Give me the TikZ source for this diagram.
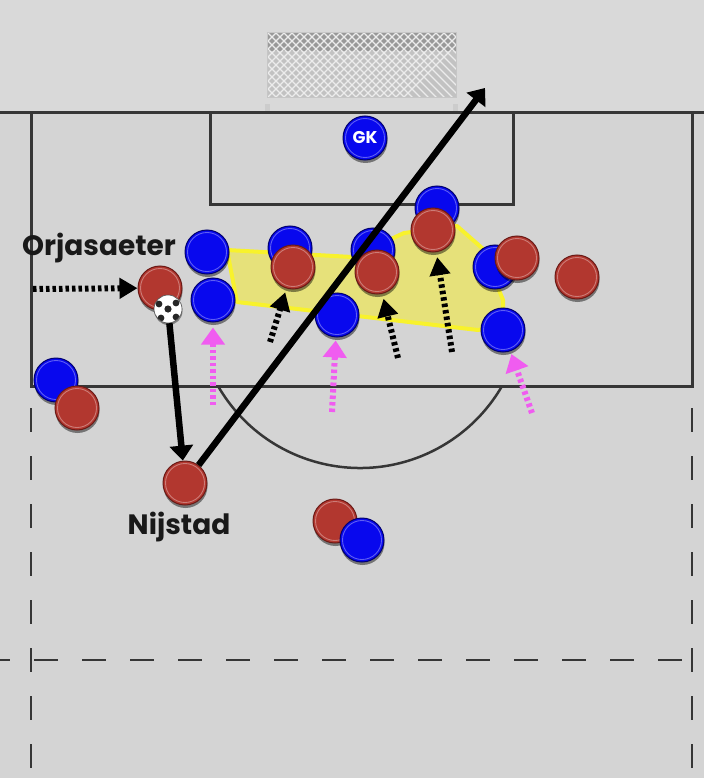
\documentclass[tikz,border=0pt]{standalone}
\usepackage{fontspec}
\setmainfont{Poppins}
\usetikzlibrary{arrows.meta,shadows}
\definecolor{pitchgrey}{HTML}{D4D4D4}
\definecolor{topgrey}{HTML}{D9D9D9}
\definecolor{linegrey}{HTML}{363636}
\definecolor{teamblue}{HTML}{0808EE}
\definecolor{blueedge}{HTML}{00006E}
\definecolor{teamred}{HTML}{B2372F}
\definecolor{rededge}{HTML}{6A1A16}
\definecolor{zonefill}{HTML}{E6E17A}
\definecolor{zoneedge}{HTML}{F8F22C}
\definecolor{runpink}{HTML}{F05CF0}
\definecolor{netgrey}{HTML}{C2C2C2}
\tikzset{
  pitchline/.style={draw=linegrey,line width=3pt},
  player/.style={circle,minimum size=44pt,inner sep=0pt,line width=1pt,
    drop shadow={shadow xshift=0.5pt,shadow yshift=-3pt,opacity=.45,fill=black},
    path picture={\draw[white,opacity=.35,line width=.9pt]
      (path picture bounding box.center) circle[radius=19.5pt];}},
  bluep/.style={player,fill=teamblue,draw=blueedge},
  redp/.style={player,fill=teamred,draw=rededge},
  pass/.style={line width=6.5pt,-{Triangle[length=15pt,width=23pt]}},
  blackrun/.style={line width=6pt,dash pattern=on 3.5pt off 3pt,
    -{Triangle[length=18pt,width=20pt]}},
  pinkrun/.style={draw=runpink,line width=6pt,dash pattern=on 3.5pt off 3pt,
    -{Triangle[length=17pt,width=23pt,fill=runpink]}},
  lbl/.style={font=\bfseries\fontsize{28}{32}\selectfont,text=black!90}
}
\begin{document}
\begin{tikzpicture}[x=1pt,y=-1pt]
  \useasboundingbox[fill=pitchgrey] (0,0) rectangle (704,778);
  \fill[topgrey] (0,0) rectangle (704,113);
  % goal net
  \begin{scope}
    \clip (267,33) rectangle (456,98);
    \fill[netgrey] (267,33) rectangle (456,98);
    \fill[gray!80] (267,33) rectangle (456,51);
    \foreach \k in {180,188,...,470} {
      \draw[white!85!gray,line width=1.3pt] (\k,33) -- ++(65,65);
      \draw[white!85!gray,line width=1.3pt] (\k,33) -- ++(-65,65);
    }
  \end{scope}
  \draw[gray!45,line width=1pt] (267,33) rectangle (456,98);
  \fill[gray!30] (265,98) rectangle (458,104);
  \fill[gray!40] (265,104) rectangle (270,113);
  \fill[gray!40] (453,104) rectangle (458,113);
  % pitch markings
  \draw[pitchline] (0,113) -- (704,113);
  \draw[pitchline] (31,113) rectangle (692,386);
  \draw[pitchline] (210,113) rectangle (513,204);
  \draw[draw=linegrey,line width=2.5pt] (218,386) arc[start angle=150,end angle=30,radius=164];
  \draw[draw=linegrey,line width=2.5pt,dash pattern=on 24pt off 24pt] (31,408) -- (31,778);
  \draw[draw=linegrey,line width=2.5pt,dash pattern=on 24pt off 24pt] (692,408) -- (692,778);
  \draw[draw=linegrey,line width=2.5pt,dash pattern=on 24pt off 24pt] (-14,660) -- (704,660);
  % defensive block
  \fill[zonefill] (227,250) -- (352,257) -- (404,233) -- (457,226) -- (482,248)
    -- (503,300) -- (503,325) -- (478,330) -- (237,302) -- cycle;
  \draw[zoneedge,line width=4pt,line join=round] (227,250) -- (352,257) -- (404,233)
    -- (457,226) -- (482,248) -- (503,300) -- (503,325) -- (478,330) -- (237,302) -- cycle;
  % players
  \node[bluep,text=white,font=\bfseries\fontsize{17}{17}\selectfont] (gk) at (365,138) {GK};
  \node[bluep] (b1) at (207,252) {};
  \node[bluep] (b2) at (213,300) {};
  \node[bluep] (b3) at (290,248) {};
  \node[bluep] (b4) at (373,250) {};
  \node[bluep] (b5) at (437,208) {};
  \node[bluep] (b6) at (495,267) {};
  \node[bluep] (b7) at (337,315) {};
  \node[bluep] (b8) at (503,330) {};
  \node[bluep] (b9) at (56,380) {};
  \node[redp] (orj) at (160,288) {};
  \node[redp] (r1) at (293,267) {};
  \node[redp] (r2) at (377,272) {};
  \node[redp] (r3) at (433,230) {};
  \node[redp] (r4) at (517,258) {};
  \node[redp] (r5) at (577,277) {};
  \node[redp] (r6) at (77,408) {};
  \node[redp] (nij) at (185,483) {};
  \node[redp] (r7) at (335,521) {};
  \node[bluep] (b10) at (362,540) {};
  % ball
  \node[circle,minimum size=28pt,inner sep=0pt,fill=white,draw=black!70,line width=.6pt,
    drop shadow={shadow xshift=0.5pt,shadow yshift=-2pt,opacity=.4,fill=black},
    path picture={
      \fill[black!85] ([xshift=0pt,yshift=0pt]path picture bounding box.center) circle[radius=3.6pt];
      \fill[black!85] ([xshift=-9pt,yshift=5pt]path picture bounding box.center) circle[radius=3.4pt];
      \fill[black!85] ([xshift=8pt,yshift=6pt]path picture bounding box.center) circle[radius=3.4pt];
      \fill[black!85] ([xshift=-7pt,yshift=-9pt]path picture bounding box.center) circle[radius=3.4pt];
      \fill[black!85] ([xshift=8pt,yshift=-8pt]path picture bounding box.center) circle[radius=3.4pt];
    }] (ball) at (168,309) {};
  % runs
  \coordinate (orjstart) at (33,289);
  \coordinate (shot) at (485,88);
  \coordinate (p1) at (213,405);
  \coordinate (p2) at (332,412);
  \coordinate (p3) at (532,413);
  \coordinate (k1) at (270,342);
  \coordinate (k2) at (398,358);
  \coordinate (k3) at (452,352);
  \draw[blackrun] (orjstart) -- (orj);
  \draw[pinkrun,shorten >=5pt] (p1) -- (b2);
  \draw[pinkrun,shorten >=3pt] (p2) -- (b7);
  \draw[pinkrun,shorten >=3pt] (p3) -- (b8);
  \draw[blackrun,shorten >=4pt] (k1) -- (r1);
  \draw[blackrun,shorten >=5pt] (k2) -- (r2);
  \draw[blackrun,shorten >=5pt] (k3) -- (r3);
  % passes
  \draw[pass] (ball) -- (nij);
  \draw[pass] (nij) -- (shot);
  % names
  \node[lbl] (orjlbl) at (99,248) {Orjasaeter};
  \node[lbl] (nijlbl) at (179,527) {Nijstad};
\end{tikzpicture}
\end{document}
